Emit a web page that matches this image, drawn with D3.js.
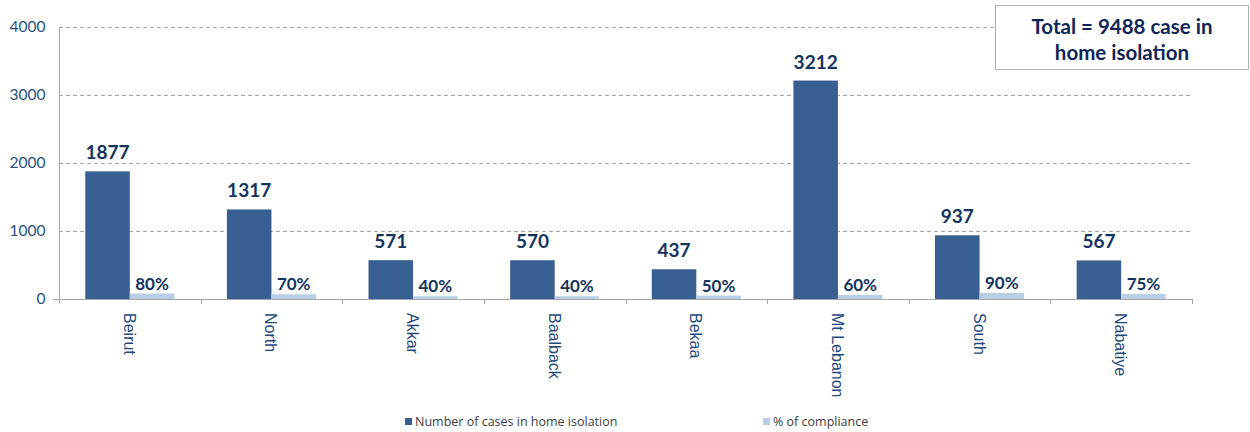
<!DOCTYPE html>
<html>
<head>
<meta charset="utf-8">
<script src="https://cdn.jsdelivr.net/npm/d3@7"></script>
<style>
  html, body { margin: 0; padding: 0; background: #fff; }
  svg { display: block; }
</style>
</head>
<body>
<svg id="chart" width="1250" height="432"></svg>
<script>
const categories = ["Beirut", "North", "Akkar", "Baalback", "Bekaa", "Mt Lebanon", "South", "Nabatiye"];
const cases = [1877, 1317, 571, 570, 437, 3212, 937, 567];
const compliance = [80, 70, 40, 40, 50, 60, 90, 75];
const seriesNames = ["Number of cases in home isolation", "% of compliance"];
const yTicks = [0, 1000, 2000, 3000, 4000];
const totalText = ["Total = 9488 case in", "home isolation"];

const colors = ["#375F91", "#B9CDE5"];
const labelColor = "#14345E";
const font = "Lato, 'Open Sans', sans-serif";

const svg = d3.select("#chart");
const m = { left: 59, right: 1192, top: 27, bottom: 299 };

const x = d3.scaleBand().domain(categories).range([m.left, m.right]).paddingInner(0).paddingOuter(0);
const inner = d3.scaleBand().domain([0, 1]).range([0, x.bandwidth()]).paddingInner(0).paddingOuter(0.59);
const y = d3.scaleLinear().domain([0, 4000]).range([m.bottom, m.top]);

// gridlines
svg.append("g").selectAll("line").data(yTicks.filter(d => d > 0)).join("line")
  .attr("x1", m.left).attr("x2", m.right)
  .attr("y1", d => y(d) + 0.5).attr("y2", d => y(d) + 0.5)
  .attr("stroke", "#A6A6A6").attr("stroke-dasharray", "4,3").attr("stroke-width", 1);

// y axis
const yAxis = svg.append("g").attr("transform", `translate(${m.left + 0.5},0)`)
  .call(d3.axisLeft(y).tickValues(yTicks).tickSize(0).tickPadding(14).tickFormat(d3.format("d")));
yAxis.select(".domain").attr("stroke", "#A6A6A6").attr("d", `M0,${m.top}V${m.bottom + 4}`);
yAxis.selectAll("text").attr("font-family", font).attr("font-size", 15.5).attr("fill", "#2A4F7F");
svg.append("line").attr("x1", m.left - 6).attr("x2", m.left).attr("y1", m.bottom + 0.5).attr("y2", m.bottom + 0.5).attr("stroke", "#A6A6A6");

// bars
const data = categories.map((c, i) => ({ c, vals: [cases[i], compliance[i]] }));
const groups = svg.append("g").selectAll("g").data(data).join("g")
  .attr("transform", d => `translate(${x(d.c)},0)`);
groups.selectAll("rect").data(d => d.vals.map((v, k) => ({ v, k }))).join("rect")
  .attr("x", d => inner(d.k)).attr("width", inner.bandwidth())
  .attr("y", d => y(d.v)).attr("height", d => y(0) - y(d.v))
  .attr("fill", d => colors[d.k]);

// value labels
groups.append("text")
  .attr("x", inner(0) + inner.bandwidth() / 2)
  .attr("y", d => y(d.vals[0]) - 12)
  .attr("text-anchor", "middle").attr("font-family", font).attr("font-weight", "bold")
  .attr("font-size", 19).attr("fill", labelColor).text(d => d.vals[0]);
groups.append("text")
  .attr("x", inner(1) + inner.bandwidth() / 2)
  .attr("y", d => y(d.vals[1]) - 4)
  .attr("text-anchor", "middle").attr("font-family", font).attr("font-weight", "bold")
  .attr("font-size", 17).attr("fill", labelColor).text(d => d.vals[1] + "%");

// x axis
const xAxis = svg.append("g").attr("transform", `translate(0,${m.bottom + 0.5})`)
  .call(d3.axisBottom(x).tickSize(0).tickFormat(""));
xAxis.select(".domain").attr("stroke", "#A6A6A6").attr("d", `M${m.left},0H${m.right}`);
const bounds = categories.map(c => x(c) + x.bandwidth());
svg.append("g").selectAll("line").data(bounds).join("line")
  .attr("x1", d => Math.round(d) + 0.5).attr("x2", d => Math.round(d) + 0.5)
  .attr("y1", m.bottom).attr("y2", m.bottom + 5).attr("stroke", "#A6A6A6");
svg.append("g").selectAll("text").data(categories).join("text")
  .attr("transform", d => `translate(${x(d) + x.bandwidth() / 2 - 6},${m.bottom + 14}) rotate(90)`)
  .attr("font-family", "'Liberation Sans', Arial, sans-serif").attr("font-size", 16).attr("fill", "#1F497D")
  .text(d => d);

// legend
const legX = [405, 763];
const leg = svg.append("g").selectAll("g").data(seriesNames).join("g")
  .attr("transform", (d, i) => `translate(${legX[i]},418)`);
leg.append("rect").attr("width", 7).attr("height", 7).attr("fill", (d, i) => colors[i]);
leg.append("text").attr("x", 10).attr("y", 8).attr("font-family", "'Open Sans', sans-serif")
  .attr("font-size", 12.5).attr("fill", "#404040").text(d => d);

// total box
svg.append("rect").attr("x", 995.5).attr("y", 5.5).attr("width", 253).attr("height", 64)
  .attr("fill", "#fff").attr("stroke", "#B0B0B0");
svg.append("g").selectAll("text").data(totalText).join("text")
  .attr("x", 1122).attr("y", (d, i) => 34 + i * 26)
  .attr("text-anchor", "middle").attr("font-family", font).attr("font-weight", "bold")
  .attr("font-size", 20.5).attr("fill", "#0F2557").text(d => d);
</script>
</body>
</html>
